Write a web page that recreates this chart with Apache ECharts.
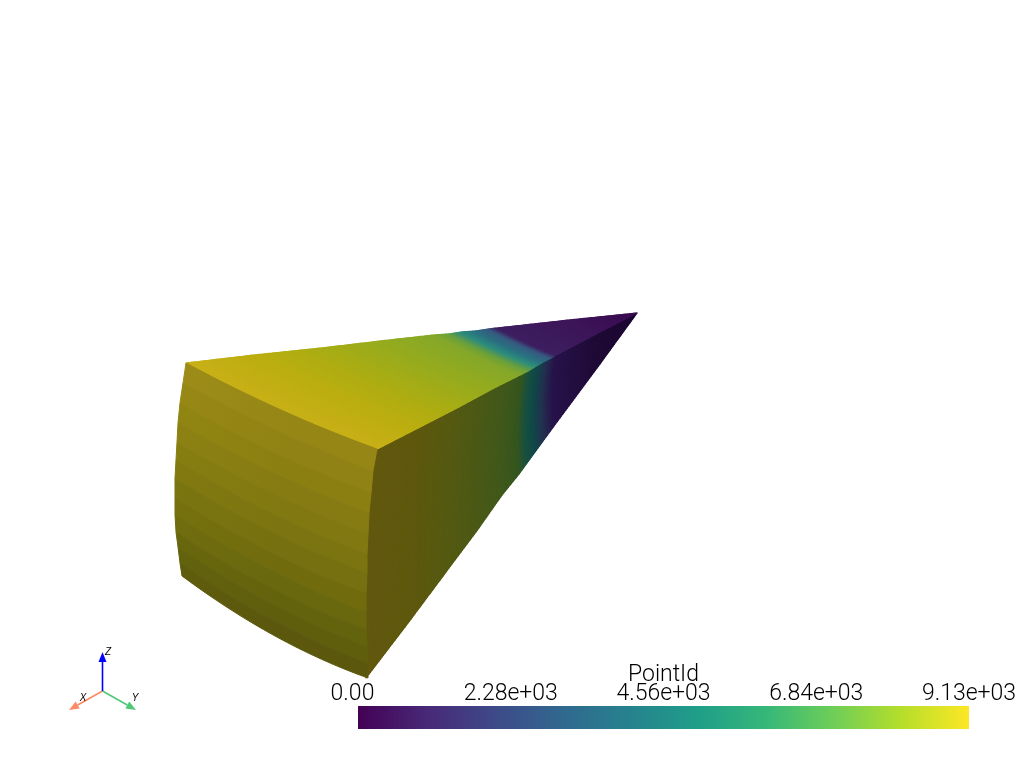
<!DOCTYPE html>
<html><head><meta charset="utf-8">
<style>html,body{margin:0;padding:0;background:#fff}#c{width:1024px;height:768px}</style>
<script src="https://cdn.jsdelivr.net/npm/echarts@6/dist/echarts.min.js"></script>
</head><body><div id="c"></div>
<script>
// Isolines: [xLeft,yLeft, xMid,yMid, xRight,yRight]
var topFaceLines = [
 [186,363,281,410,377,449],[254,355,338,396,416,429],[321,348,391,382,455,409],[389,340,443,367,494,388],
 [434,335,479,357,520,375],[448,334,489,354,528,371],[461,332,500,351,536,366],[475,331,510,348,543,362],
 [488,329,521,345,551,358],[497,328,528,343,556,355],[569,320,584,328,598,333],[637,313,637,313,637,313]
];
var topFaceColors = ['#c8b018','#bcae10','#a9ad14','#93ab20','#85a82a','#6ba03c','#2c8c7c','#2a7080','#375a80','#3d1f60','#3d1559','#3a0b50'];
var rightFaceLines = [
 [375,449,364,565,366,678],[416,429,407,527,408,623],[455,409,448,489,449,568],[481,395,475,464,476,532],
 [507,381,502,439,502,495],[523,373,518,424,519,474],[530,369,526,416,527,463],[538,365,534,409,535,452],
 [546,361,542,401,543,441],[556,355,553,391,554,426],[598,333,596,351,597,368],[637,313,637,313,637,313]
];
var rightFaceColors = ['#62580e','#5e580d','#555911','#4b5915','#40581b','#34551e','#18503f','#0f4848','#22334f','#27134a','#1f0a36','#1a0630'];
var leftFaceLines = [
 [186,363,281,410,377,449],[183,383,278,431,373,471],[180,403,275,453,371,493],[178,423,274,473,369,513],
 [177,442,272,493,368,534],[176,460,271,513,367,554],[175,478,271,532,367,573],[175,498,270,552,366,593],
 [175,515,271,570,366,612],[176,532,271,588,366,629],[178,547,272,604,367,647],[180,563,274,621,367,663],
 [182,576,275,636,368,678]
];
var leftFaceColors = ['#958616','#908214','#8b7f12','#867b12','#817811','#7c7410','#767010','#706c0e','#6a680e','#64630d','#5f5e0d','#5b580d'];
var colorbarMax = 9130;
var colorbarTicks = ['0.00','2.28e+03','4.56e+03','6.84e+03','9.13e+03'];
var colorbarStops = ['#440154','#482878','#3e4989','#31688e','#26828e','#1f9e89','#35b779','#6ece58','#b5de2b','#fde725'];
var triadOrigin = [102.5,691];
var triadNames = ['X','Y','Z'];
var triadTips = [[69,710],[136,710],[102.5,652]];
var triadLabelAt = [[83,698],[135,698],[108,652]];
var triadColors = ['#ff8a65','#50c878','#0000ff'];
var FONT = 'Roboto';

function strips(lines){
  var out=[];
  for(var i=0;i<lines.length-1;i++){ out.push(lines[i].concat(lines[i+1],[i])); }
  return out;
}
function curve(api,v){
  var L=[v[0],v[1]],M=[v[2],v[3]],R=[v[4],v[5]];
  var C=[2*M[0]-.5*(L[0]+R[0]),2*M[1]-.5*(L[1]+R[1])],p=[];
  for(var k=0;k<=16;k++){var t=k/16,a=(1-t)*(1-t),b=2*t*(1-t),c=t*t;
    p.push(api.coord([a*L[0]+b*C[0]+c*R[0],a*L[1]+b*C[1]+c*R[1]]));}
  return p;
}
function vals(api,n){var v=[];for(var i=0;i<n;i++)v.push(api.value(i));return v;}
function mixLine(v,t){var o=[];for(var i=0;i<6;i++)o.push(v[i]+(v[i+6]-v[i])*t);return o;}
function faceSeries(lines,colors){
  return {type:'custom',coordinateSystem:'cartesian2d',xAxisIndex:0,yAxisIndex:0,silent:true,animation:false,
    data:strips(lines),
    renderItem:function(params,api){
      var v=vals(api,13),i=v[12],kids=[];
      var n=Math.max(2,Math.ceil(Math.abs(v[8]-v[2])/1.5));
      for(var j=0;j<n;j++){
        var a=curve(api,mixLine(v,j/n)),b=curve(api,mixLine(v,(j+1)/n));
        var c=echarts.color.lerp((j+.5)/n,[colors[i],colors[i+1]]);
        kids.push({type:'polygon',shape:{points:a.concat(b.reverse())},style:{fill:c,stroke:c,lineWidth:1.2,lineJoin:'round'}});
      }
      return {type:'group',children:kids};
    }};
}
function leftSeries(lines,colors){
  return {type:'custom',coordinateSystem:'cartesian2d',xAxisIndex:0,yAxisIndex:0,silent:true,animation:false,
    data:strips(lines),
    renderItem:function(params,api){
      var v=vals(api,13),i=v[12];
      var a=curve(api,v.slice(0,6)),b=curve(api,v.slice(6,12));
      var pts=a.concat(b.reverse());
      var c=echarts.color.lift(colors[i],-0.05);
      var g={type:'linear',global:true,x:a[0][0],y:0,x2:a[16][0],y2:0,
        colorStops:[{offset:0,color:c},{offset:.55,color:colors[i]},{offset:1,color:colors[i]}]};
      return {type:'polygon',shape:{points:pts},style:{fill:g,stroke:g,lineWidth:1,lineJoin:'round'}};
    }};
}
var triadSeries={type:'custom',coordinateSystem:'cartesian2d',xAxisIndex:0,yAxisIndex:0,silent:true,animation:false,
  data:triadTips.map(function(t,i){return [t[0],t[1],triadLabelAt[i][0],triadLabelAt[i][1],i];}),
  renderItem:function(params,api){
    var i=api.value(4),o=api.coord(triadOrigin),t=api.coord([api.value(0),api.value(1)]);
    var dx=t[0]-o[0],dy=t[1]-o[1],len=Math.sqrt(dx*dx+dy*dy);dx/=len;dy/=len;
    var bx=t[0]-dx*10,by=t[1]-dy*10,nx=-dy*4,ny=dx*4;
    var l=api.coord([api.value(2),api.value(3)]);
    return {type:'group',children:[
      {type:'line',shape:{x1:o[0],y1:o[1],x2:bx,y2:by},style:{stroke:triadColors[i],lineWidth:1.6}},
      {type:'polygon',shape:{points:[t,[bx+nx,by+ny],[bx-nx,by-ny]]},style:{fill:triadColors[i]}},
      {type:'text',style:{x:l[0],y:l[1],text:triadNames[i],fill:'#000',font:'italic 10px "Liberation Sans"',align:'center',verticalAlign:'middle'}}
    ]};
  }};
var barSeries={type:'custom',coordinateSystem:'cartesian2d',xAxisIndex:1,yAxisIndex:1,silent:true,animation:false,
  data:[[0,colorbarMax]],
  renderItem:function(params,api){
    var a=api.coord([api.value(0),0]),b=api.coord([api.value(1),1]);
    return {type:'rect',shape:{x:a[0],y:b[1],width:b[0]-a[0],height:a[1]-b[1]},
      style:{fill:{type:'linear',x:0,y:0,x2:1,y2:0,colorStops:colorbarStops.map(function(c,i){return {offset:i/(colorbarStops.length-1),color:c};})}}};
  }};
var chart=echarts.init(document.getElementById('c'),null,{renderer:'canvas'});
chart.setOption({
  animation:false,backgroundColor:'#ffffff',
  grid:[{left:0,right:0,top:0,bottom:0},{left:358,top:706,width:611,height:23}],
  xAxis:[{type:'value',gridIndex:0,min:0,max:1024,show:false},
    {type:'value',gridIndex:1,min:0,max:colorbarMax,interval:colorbarMax/4,position:'top',
     name:'PointId',nameLocation:'middle',nameGap:19,nameMoveOverlap:false,nameTextStyle:{fontFamily:FONT,fontWeight:300,fontSize:23,color:'#000'},
     axisLine:{show:false},axisTick:{show:false},splitLine:{show:false},
     axisLabel:{show:true,margin:0,fontFamily:FONT,fontWeight:300,fontSize:23,color:'#000',hideOverlap:false,
       formatter:function(v,i){return i===0?'{a|'+colorbarTicks[0]+'}':colorbarTicks[i];},
       rich:{a:{fontFamily:FONT,fontWeight:300,fontSize:23,color:'#000',padding:[0,11,0,0]}}}}],
  yAxis:[{type:'value',gridIndex:0,min:0,max:768,inverse:true,show:false},
    {type:'value',gridIndex:1,min:0,max:1,show:false}],
  series:[faceSeries(rightFaceLines,rightFaceColors),faceSeries(topFaceLines,topFaceColors),leftSeries(leftFaceLines,leftFaceColors),barSeries,triadSeries]
});
</script></body></html>
